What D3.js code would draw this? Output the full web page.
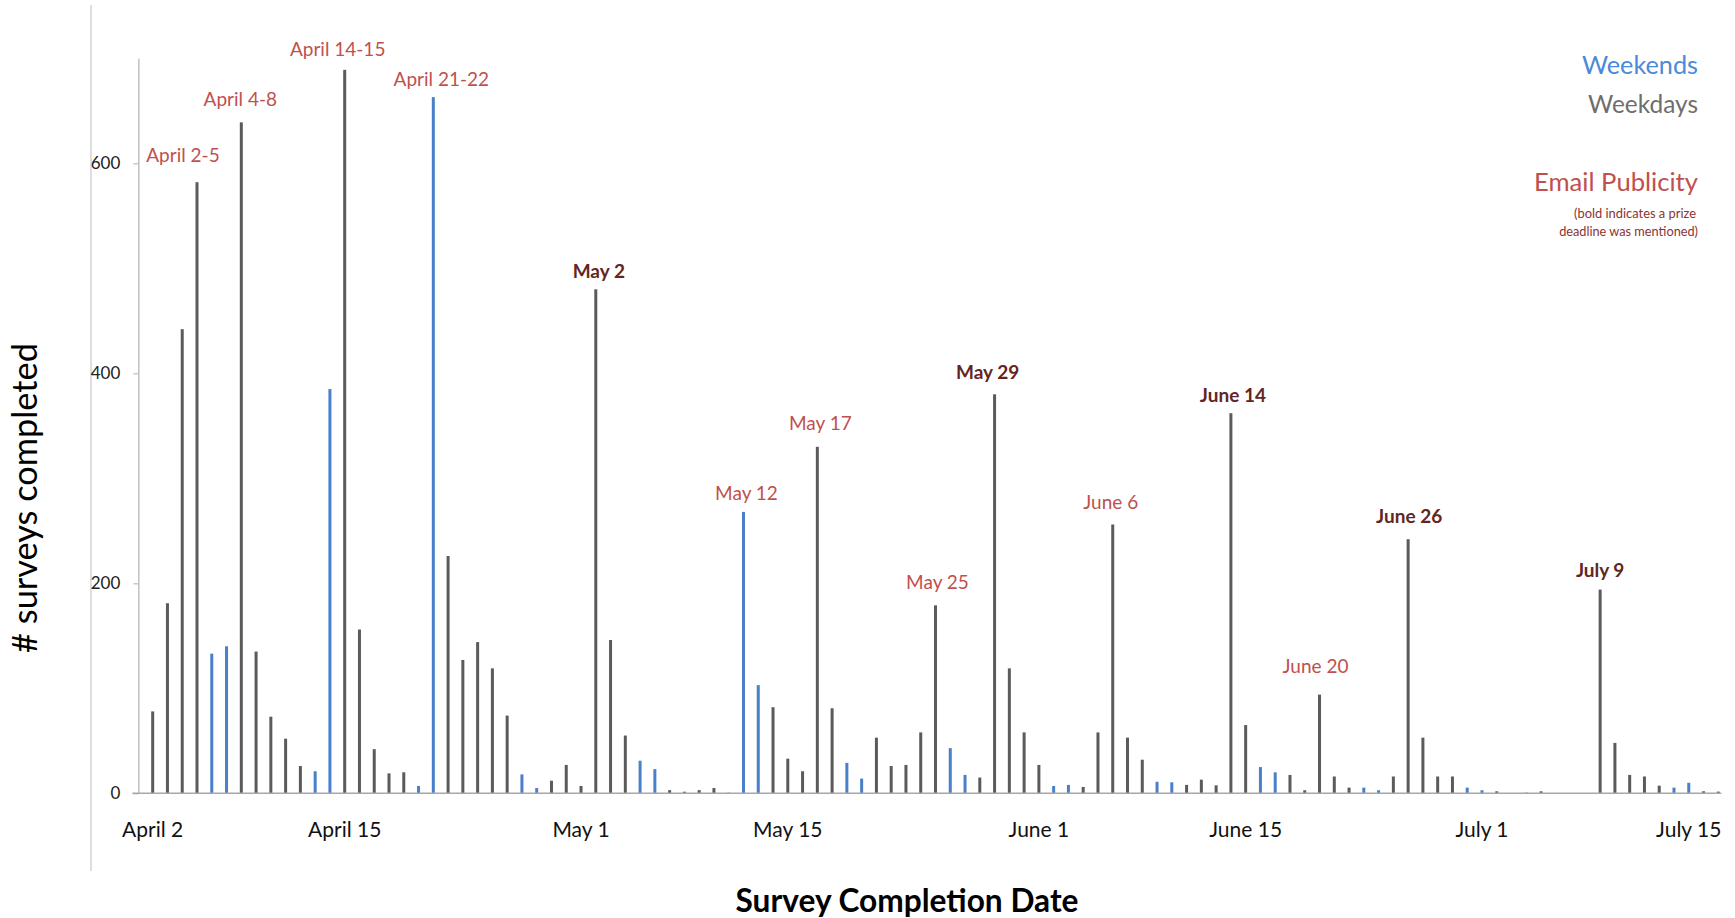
<!DOCTYPE html>
<html>
<head>
<meta charset="utf-8">
<script src="https://cdn.jsdelivr.net/npm/d3@7"></script>
<style>
  body { margin: 0; background: #ffffff; }
  svg { display: block; }
  text { font-family: Lato, "Open Sans", "DejaVu Sans", sans-serif; }
</style>
</head>
<body>
<svg id="chart" width="1735" height="918"></svg>
<script>
// ---------------- DATA ----------------
const monthNames = ["April", "May", "June", "July"];
const monthFirstDay = [2, 1, 1, 1];

// surveys completed per day
const aprilValues = [78,181,442,582,133,140,639,135,73,52,26,21,385,689,156,42,19,20,7,663,226,127,144,119,74,18,5,12,27];
const mayValues   = [7,480,146,55,31,23,3,1.5,3,5,0.6,268,103,82,33,21,330,81,29,14,53,26,27,58,179,43,17.5,15,380,119,58];
const juneValues  = [27,7,8,6,58,256,53,32,11,10.5,8,13,7.6,362,65,25,20,17.5,2.9,94,16,5.4,5.4,2.9,16,242,53,16,16,5.4];
const julyValues  = [2.9,1.9,0,0.6,1.9,0,0,0,194,48,17.5,16,7.3,5.4,10,1.9,1.6];

// 1 = weekend (blue), 0 = weekday (gray)
const aprilWeekend = [0,0,0,0,1,1,0,0,0,0,0,1,1,0,0,0,0,0,1,1,0,0,0,0,0,1,1,0,0];
const mayWeekend   = [0,0,0,0,1,1,0,0,0,0,1,1,1,0,0,0,0,0,1,1,0,0,0,0,0,1,1,0,0,0,0];
const juneWeekend  = [0,1,1,0,0,0,0,0,1,1,0,0,0,0,0,1,1,0,0,0,0,0,1,1,0,0,0,0,0,1];
const julyWeekend  = [1,0,0,0,0,0,1,1,0,0,0,0,0,1,1,0,0];

const xTickLabels = ["April 2", "April 15", "May 1", "May 15", "June 1", "June 15", "July 1", "July 15"];
const yTickValues = [0, 200, 400, 600];

// email publicity annotations: label, day it sits on, bold = prize deadline mentioned
const annoLabels = ["April 2-5","April 4-8","April 14-15","April 21-22","May 2","May 12","May 17","May 25","May 29","June 6","June 14","June 20","June 26","July 9"];
const annoDays   = ["April 5","April 8","April 15","April 21","May 2","May 12","May 17","May 25","May 29","June 6","June 14","June 20","June 26","July 9"];
const annoBold   = [0,0,0,0,1,0,0,0,1,0,1,0,1,1];

// ---------------- LAYOUT / STYLE ----------------
const annoNudge = {
  "April 2-5": {dx: -14, gap: 20}, "April 4-8": {dx: -1, gap: 16}, "April 14-15": {dx: -7, gap: 14},
  "April 21-22": {dx: 8, gap: 11}, "May 2": {dx: 3, gap: 11}, "May 12": {dx: 3, gap: 12},
  "May 17": {dx: 3, gap: 17}, "May 25": {dx: 2, gap: 16}, "May 29": {dx: -7, gap: 15},
  "June 6": {dx: -2, gap: 16}, "June 14": {dx: 2, gap: 11}, "June 20": {dx: -4, gap: 22},
  "June 26": {dx: 1, gap: 16}, "July 9": {dx: 0, gap: 13}
};
const colWeekday = "#5b5b5b", colWeekend = "#4a7fc9";
const colRed = "#c0504d", colDark = "#632523";

// ---------------- BUILD ROWS ----------------
const valuesByMonth = [aprilValues, mayValues, juneValues, julyValues];
const weekendByMonth = [aprilWeekend, mayWeekend, juneWeekend, julyWeekend];
const rows = [];
valuesByMonth.forEach((vals, m) => {
  vals.forEach((v, i) => {
    rows.push({ day: monthNames[m] + " " + (monthFirstDay[m] + i), value: v, weekend: weekendByMonth[m][i] === 1 });
  });
});

// ---------------- SCALES ----------------
const svg = d3.select("#chart");
const step = 14.77;
const x0 = 145.3;
const x = d3.scaleBand().domain(rows.map(r => r.day)).range([x0, x0 + step * rows.length]).padding(0);
const cx = d => x(d) + x.bandwidth() / 2;
const y = d3.scaleLinear().domain([0, 700]).range([793.3, 58.3]);

// frame line at far left
svg.append("line").attr("x1", 91).attr("x2", 91).attr("y1", 5).attr("y2", 871)
  .attr("stroke", "#c8c8c8").attr("stroke-width", 1.2);

// ---------------- Y AXIS ----------------
const yAxisX = 138.3;
const yAxis = svg.append("g").attr("transform", `translate(${yAxisX},0)`)
  .call(d3.axisLeft(y).tickValues(yTickValues).tickSize(5).tickSizeOuter(0).tickPadding(13));
yAxis.select(".domain").attr("stroke", "#c4c4c4").attr("stroke-width", 1.6);
yAxis.selectAll(".tick line").attr("stroke", "#bdbdbd").attr("stroke-width", 1.2);
yAxis.selectAll(".tick text").attr("font-size", 17).attr("fill", "#222")
  .style("font-family", "Lato, sans-serif");

// ---------------- BARS ----------------
const barW = 3;
svg.append("g").selectAll("rect").data(rows).join("rect")
  .attr("x", d => cx(d.day) - barW / 2)
  .attr("width", barW)
  .attr("y", d => y(d.value))
  .attr("height", d => y(0) - y(d.value))
  .attr("fill", d => d.weekend ? colWeekend : colWeekday);

// ---------------- X AXIS ----------------
svg.append("line")
  .attr("x1", yAxisX - 6).attr("x2", cx(rows[rows.length - 1].day) + 3)
  .attr("y1", y(0)).attr("y2", y(0))
  .attr("stroke", "#a8a8a8").attr("stroke-width", 1.6);

const xAxis = svg.append("g").attr("transform", `translate(0,${y(0)})`)
  .call(d3.axisBottom(x).tickValues(xTickLabels).tickSize(0).tickPadding(28.5));
xAxis.select(".domain").remove();
xAxis.selectAll(".tick text").attr("font-size", 21).attr("fill", "#111")
  .style("font-family", "Lato, sans-serif");

// ---------------- ANNOTATIONS ----------------
const annos = annoLabels.map((t, i) => ({ text: t, day: annoDays[i], bold: annoBold[i] === 1 }));
svg.append("g").selectAll("text").data(annos).join("text")
  .attr("x", d => cx(d.day) + annoNudge[d.text].dx)
  .attr("y", d => y(rows.find(r => r.day === d.day).value) - annoNudge[d.text].gap)
  .attr("text-anchor", "middle")
  .attr("font-size", 19)
  .attr("font-weight", d => d.bold ? 700 : 400)
  .attr("fill", d => d.bold ? colDark : colRed)
  .text(d => d.text);

// ---------------- LEGEND ----------------
function fitWidth(sel, target) {
  const n = sel.node();
  const fs = parseFloat(sel.attr("font-size"));
  const w = n.getComputedTextLength();
  sel.attr("font-size", (fs * target / w).toFixed(2));
  return sel;
}
const legX = 1698;
fitWidth(svg.append("text").attr("x", legX).attr("y", 74).attr("text-anchor", "end")
  .attr("font-size", 27).attr("fill", "#4a8ad8").text("Weekends"), 116);
fitWidth(svg.append("text").attr("x", legX).attr("y", 113).attr("text-anchor", "end")
  .attr("font-size", 27).attr("fill", "#6e6e6e").text("Weekdays"), 110);
fitWidth(svg.append("text").attr("x", legX).attr("y", 191).attr("text-anchor", "end")
  .attr("font-size", 27).attr("fill", colRed).text("Email Publicity"), 164);
fitWidth(svg.append("text").attr("x", legX - 2).attr("y", 217.5).attr("text-anchor", "end")
  .attr("font-size", 13).attr("fill", "#8a3431").text("(bold indicates a prize"), 122);
fitWidth(svg.append("text").attr("x", legX).attr("y", 235.5).attr("text-anchor", "end")
  .attr("font-size", 13).attr("fill", "#8a3431").text("deadline was mentioned)"), 139);

// ---------------- AXIS TITLES ----------------
fitWidth(svg.append("text").attr("transform", "translate(37,498) rotate(-90)")
  .attr("text-anchor", "middle").attr("font-size", 30).attr("fill", "#000")
  .text("# surveys completed"), 310);
fitWidth(svg.append("text").attr("x", 907).attr("y", 912)
  .attr("text-anchor", "middle").attr("font-size", 27).attr("font-weight", 700).attr("fill", "#000")
  .text("Survey Completion Date"), 343);
</script>
</body>
</html>
